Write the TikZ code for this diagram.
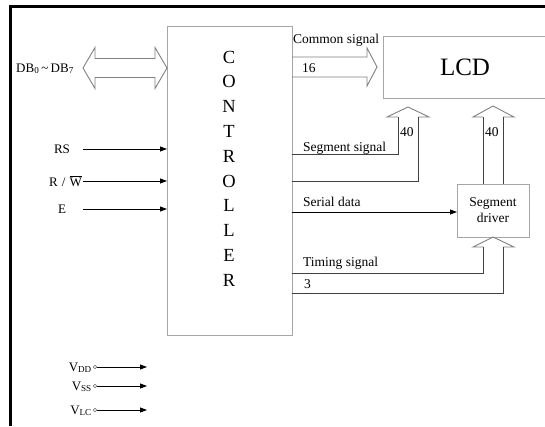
\documentclass[tikz,border=0pt]{standalone}
\usepackage{fontspec}
\setmainfont{Liberation Serif}
\usetikzlibrary{positioning,calc,arrows.meta}

\begin{document}
\begin{tikzpicture}[x=1pt, y=-1pt,
    box/.style={draw=black!35, line width=0.9pt, inner sep=0pt, outer sep=0pt},
    hollow/.style={draw=black!50, line width=0.9pt, line join=miter},
    wire/.style={draw=black!75, line width=0.9pt},
    feed/.style={-{Triangle[length=7pt, width=5pt]}, line width=0.8pt},
    lbl/.style={font=\fontsize{13.5}{15}\selectfont, inner sep=0pt},
    pinlbl/.style={font=\fontsize{13}{15}\selectfont, inner sep=0pt},
    letter/.style={font=\fontsize{18.5}{20}\selectfont, inner sep=0pt}
]
\useasboundingbox (0,0) rectangle (545,426);

% Frame
\draw[line width=3pt] (545,6) -- (10,6) -- (10,426);

% Controller
\node[box, anchor=north west, minimum width=125pt, minimum height=309pt] (ctrl) at (167,26) {};
\foreach \ch [count=\i] in {C,O,N,T,R,O,L,L,E,R}
  \node[letter] (ch\i) at (229,{57+24.8*(\i-1)}) {\ch};

% LCD
\draw[box] (546,36) -- (383,36) -- (383,98) -- (546,98);
\node[font=\fontsize{25}{27}\selectfont, inner sep=0pt] (lcd) at (465,67) {LCD};

% Segment driver
\node[box, anchor=north west, minimum width=72pt, minimum height=53pt, align=center,
      font=\fontsize{13.5}{16}\selectfont] (drv) at (457,184) {Segment\\driver};

% Data bus
\coordinate (dbtip) at (ctrl.west |- 0,68);
\draw[hollow] (dbtip) -- ++(-12,-20.5) -- ++(0,11) -- ++(-60,0) -- ++(0,-11)
  -- ++(-12,20.5) -- ++(12,20.5) -- ++(0,-11) -- ++(60,0) -- ++(0,11) -- cycle;
\node[pinlbl, anchor=base east] (db) at (74,72) {DB\textsubscript{0}\,\textasciitilde\,DB\textsubscript{7}};

% Common signal
\coordinate (comtip) at (377,67);
\draw[hollow] (ctrl.east |- 0,57) -- (367,57) -- (367,48) -- (comtip) -- (367,86)
  -- (367,77) -- (ctrl.east |- 0,77);
\node[lbl, anchor=base west] (comlbl) at (293,43) {Common signal};
\node[lbl, anchor=base west] (n16) at (302,72) {16};

% Segment signal
\draw[wire] (ctrl.east |- 0,154) -- (398,154) -- (398,117);
\draw[hollow] (398,117) -- (387,117) -- (408,107) -- (429,117) -- (418,117);
\draw[wire] (418,117) -- (418,181) -- (ctrl.east |- 0,181);
\node[lbl, anchor=base west] (seglbl) at (303,151) {Segment signal};
\node[lbl, anchor=base west] (n40a) at (400,136) {40};

% Segment driver -> LCD
\draw[wire] (drv.north -| 483,0) -- (483,117);
\draw[hollow] (483,117) -- (473,117) -- (493,106) -- (514,117) -- (503,117);
\draw[wire] (503,117) -- (drv.north -| 503,0);
\node[lbl, anchor=base west] (n40b) at (485,136) {40};

% Serial data
\draw[feed] (ctrl.east |- 0,212) -- (drv.west |- 0,212);
\node[lbl, anchor=base west] (serlbl) at (303,206) {Serial data};

% Timing signal
\draw[hollow] (483,247) -- (473,247) -- (drv.south) -- (514,247) -- (503,247);
\draw[wire] (483,247) -- (483,273) -- (ctrl.east |- 0,273);
\draw[wire] (503,247) -- (503,293) -- (ctrl.east |- 0,293);
\node[lbl, anchor=base west] (timlbl) at (303,266) {Timing signal};
\node[lbl, anchor=base west] (n3) at (304,288) {3};

% Inputs
\node[pinlbl] (rs) at (62,149) {RS};
\node[pinlbl, anchor=east] (rw) at (82,181) {R\hspace{4pt}/\hspace{4pt}$\overline{\hbox{W}}$};
\node[pinlbl] (en) at (62,209) {E};
\coordinate (rsin) at (83,149);
\coordinate (rwin) at (83,181);
\coordinate (enin) at (83,209);
\draw[feed] (rsin) -- (ctrl.west |- rsin);
\draw[feed] (rwin) -- (ctrl.west |- rwin);
\draw[feed] (enin) -- (ctrl.west |- enin);

% Supplies
\foreach \nm/\sub/\yy in {dd/DD/367, ss/SS/386, lc/LC/410} {
  \node[pinlbl, anchor=base east] (v\nm) at (92,\yy+4) {V\textsubscript{\sub}};
  \node[circle, draw=black!60, line width=0.6pt, inner sep=0pt, minimum size=3.5pt] (c\nm) at (95,\yy) {};
  \coordinate (o\nm) at (147,\yy);
  \draw[feed] (c\nm) -- (o\nm);
}

\end{tikzpicture}
\end{document}
